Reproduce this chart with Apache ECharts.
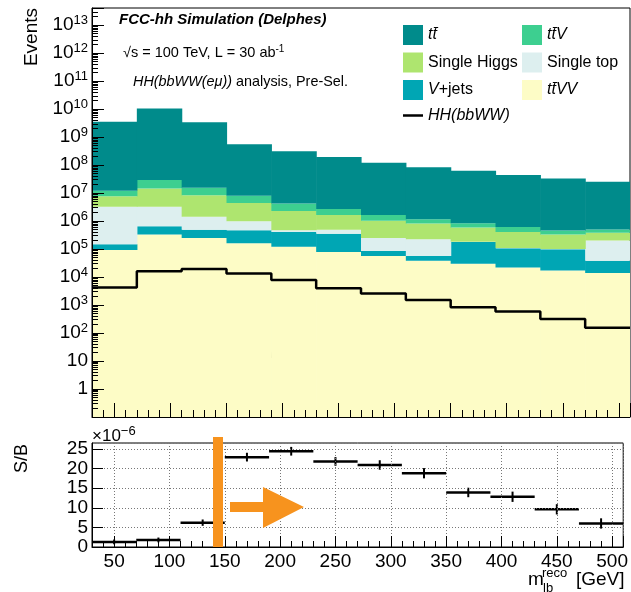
<!DOCTYPE html>
<html>
<head>
<meta charset="utf-8">
<script src="https://cdn.jsdelivr.net/npm/echarts@6/dist/echarts.min.js"></script>
<style>
html, body { margin: 0; padding: 0; background: #fff; }
#chart { width: 631px; height: 592px; }
</style>
</head>
<body>
<div id="chart"></div>
<script>
var binEdges = [30, 70, 110, 150, 190, 230, 270, 310, 350, 390, 430, 470, 510];

// events per bin, listed from the bottom of the stack upwards
var ttVV        = [9.3e4, 3.3e5, 2.5e5, 1.6e5, 1.2e5, 7.9e4, 5.6e4, 3.8e4, 3.0e4, 2.2e4, 1.7e4, 1.4e4];
var vJets       = [5.5e4, 3.2e5, 2.4e5, 3.1e5, 2.9e5, 2.75e5, 2.9e4, 1.8e4, 1.5e5, 8.5e4, 8.1e4, 2.4e4];
var singleTop   = [3.1e6, 2.6e6, 9.5e5, 5.1e5, 6.1e4, 1.35e5, 1.66e5, 1.68e5, 4.0e3, 3.0e3, 2.3e3, 1.66e5];
var singleHiggs = [4.5e6, 1.12e7, 6.9e6, 3.4e6, 1.8e6, 1.17e6, 7.7e5, 5.9e5, 4.0e5, 3.0e5, 2.3e5, 1.76e5];
var ttV         = [4.3e6, 1.5e7, 7.2e6, 3.6e6, 2.0e6, 1.03e6, 6.4e5, 3.6e5, 2.6e5, 2.0e5, 1.26e5, 1.21e5];
var ttbar       = [3.54e9, 1.04e10, 3.37e9, 5.5e8, 3.1e8, 1.9e8, 1.2e8, 8.2e7, 6.2e7, 4.4e7, 3.3e7, 2.5e7];
var hhSignal    = [4.2e3, 1.6e4, 1.95e4, 1.35e4, 7.9e3, 4.0e3, 2.6e3, 1.5e3, 830, 590, 320, 155];

// S/B in units of 1e-6
var sOverB    = [1.3, 1.8, 6.2, 22.9, 24.4, 21.8, 20.9, 18.8, 13.9, 12.8, 9.6, 6.0];
var sOverBErr = [0.1, 0.1, 0.3, 0.6, 0.6, 0.6, 0.7, 0.8, 0.7, 0.8, 0.8, 0.8];

var font = "'Liberation Sans', Arial, sans-serif";
var yMin = 0.1, yMax = 4.1e13;

var stackDefs = [
	{ name: 'ttVV', data: ttVV, color: '#fdfcc6' },
	{ name: 'vjets', data: vJets, color: '#00a6b4' },
	{ name: 'singletop', data: singleTop, color: '#ddefef' },
	{ name: 'singlehiggs', data: singleHiggs, color: '#aee56f' },
	{ name: 'ttV', data: ttV, color: '#3dcf90' },
	{ name: 'ttbar', data: ttbar, color: '#008b8b' }
];

var legendText = {
	ttbar: '{i|tt\u0304}',
	ttV: '{i|tt\u0304V}',
	singlehiggs: 'Single Higgs',
	singletop: 'Single top',
	vjets: '{i|V}+jets',
	ttVV: '{i|tt\u0304VV}',
	HH: '{i|HH(bbWW)}'
};

var cum = hhSignal.map(function () { return 0; });
var stackSeries = stackDefs.map(function (d) {
	var rows = d.data.map(function (v, i) {
		var lo = cum[i];
		cum[i] += v;
		return [binEdges[i], binEdges[i + 1], lo > 0 ? lo : yMin, cum[i]];
	});
	return {
		type: 'custom',
		name: d.name,
		xAxisIndex: 0,
		yAxisIndex: 0,
		clip: true,
		itemStyle: { color: d.color },
		encode: { x: [0, 1], y: [2, 3] },
		renderItem: function (params, api) {
			var a = api.coord([api.value(0), api.value(3)]);
			var b = api.coord([api.value(1), api.value(2)]);
			return {
				type: 'rect',
				shape: { x: a[0], y: a[1], width: b[0] - a[0] + 0.6, height: b[1] - a[1] },
				style: { fill: d.color }
			};
		},
		data: rows
	};
});

var hhLine = hhSignal.map(function (v, i) { return [binEdges[i], v]; });
hhLine.push([binEdges[binEdges.length - 1], hhSignal[hhSignal.length - 1]]);

var sbRows = sOverB.map(function (v, i) {
	return [binEdges[i], binEdges[i + 1], v, sOverBErr[i]];
});

var chart = echarts.init(document.getElementById('chart'));

var legendStyle = {
	fontSize: 16, color: '#000', fontFamily: font,
	rich: { i: { fontSize: 16, fontStyle: 'italic', fontFamily: font } }
};

var option = {
	animation: false,
	backgroundColor: '#fff',
	textStyle: { fontFamily: font, color: '#000' },
	grid: [
		{ left: 92, top: 8, width: 538, height: 409, show: true, borderColor: '#000', borderWidth: 1, backgroundColor: 'transparent' },
		{ left: 92, top: 443, width: 538, height: 104, show: true, borderColor: '#000', borderWidth: 1, backgroundColor: 'transparent' }
	],
	legend: [
		{
			left: 403, top: 25, orient: 'vertical', padding: 0,
			itemWidth: 20, itemHeight: 20, itemGap: 7.5,
			selectedMode: false,
			data: [
				{ name: 'ttbar', icon: 'rect' },
				{ name: 'singlehiggs', icon: 'rect' },
				{ name: 'vjets', icon: 'rect' },
				{ name: 'HH', icon: 'path://M0,0h20v2.5h-20z' }
			],
			formatter: function (n) { return legendText[n]; },
			textStyle: legendStyle
		},
		{
			left: 522, top: 25, orient: 'vertical', padding: 0,
			itemWidth: 20, itemHeight: 20, itemGap: 7.5,
			selectedMode: false,
			data: [{ name: 'ttV', icon: 'rect' }, { name: 'singletop', icon: 'rect' }, { name: 'ttVV', icon: 'rect' }],
			formatter: function (n) { return legendText[n]; },
			textStyle: legendStyle
		}
	],
	xAxis: [
		{
			gridIndex: 0, type: 'value', min: 30, max: 510, splitNumber: 10, z: 10,
			axisLine: { lineStyle: { color: '#000' } },
			axisTick: { inside: true, length: 14, lineStyle: { color: '#000' } },
			minorTick: { show: true, splitNumber: 5, length: 7, lineStyle: { color: '#000' } },
			axisLabel: { show: false },
			splitLine: { show: false }
		},
		{
			gridIndex: 1, type: 'value', min: 30, max: 510, splitNumber: 10, z: 10,
			axisLine: { lineStyle: { color: '#000' } },
			axisTick: { inside: true, length: 11, lineStyle: { color: '#000' } },
			minorTick: { show: true, splitNumber: 5, length: 6, lineStyle: { color: '#000' } },
			axisLabel: { fontSize: 19, color: '#000', margin: 5, showMinLabel: false, showMaxLabel: false },
			splitLine: { show: true, lineStyle: { color: '#777', type: [1, 2] } }
		}
	],
	yAxis: [
		{
			gridIndex: 0, type: 'log', logBase: 10, min: yMin, max: yMax, interval: 1, z: 10,
			axisLine: { lineStyle: { color: '#000' } },
			axisTick: { inside: true, length: 12, lineStyle: { color: '#000' } },
			minorTick: { show: true, splitNumber: 9, length: 6, lineStyle: { color: '#000' } },
			splitLine: { show: false },
			axisLabel: {
				margin: 4, color: '#000', showMinLabel: false, showMaxLabel: false,
				formatter: function (v) {
					var e = Math.round(Math.log10(v));
					if (e === 0) return '{b|1}';
					if (e === 1) return '{b|10}';
					return '{b|10}{e|' + e + '}';
				},
				rich: {
					b: { fontSize: 19, fontFamily: font },
					e: { fontSize: 13, fontFamily: font, padding: [0, 0, 10, 0] }
				}
			}
		},
		{
			gridIndex: 1, type: 'value', min: 0, max: 26.5, interval: 5, z: 10,
			axisLine: { lineStyle: { color: '#000' } },
			axisTick: { inside: true, length: 11, lineStyle: { color: '#000' } },
			axisLabel: { fontSize: 19, color: '#000', margin: 4, showMaxLabel: false },
			splitLine: { show: true, lineStyle: { color: '#777', type: [1, 2] } }
		}
	],
	series: stackSeries.concat([
		{
			type: 'line', name: 'HH', xAxisIndex: 0, yAxisIndex: 0,
			step: 'end', symbol: 'none', data: hhLine,
			lineStyle: { color: '#000', width: 2.5 },
			itemStyle: { color: '#000' },
			z: 5
		},
		{
			type: 'custom', name: 'S/B', xAxisIndex: 1, yAxisIndex: 1,
			encode: { x: [0, 1], y: 2 },
			renderItem: function (params, api) {
				var l = api.coord([api.value(0), api.value(2)]);
				var r = api.coord([api.value(1), api.value(2)]);
				var mid = (api.value(0) + api.value(1)) / 2;
				var hi = api.coord([mid, api.value(2) + api.value(3)]);
				var lo = api.coord([mid, api.value(2) - api.value(3)]);
				return {
					type: 'group',
					children: [
						{ type: 'line', shape: { x1: l[0], y1: l[1], x2: r[0], y2: r[1] }, style: { stroke: '#000', lineWidth: 2.5 } },
						{ type: 'line', shape: { x1: hi[0], y1: hi[1] - 2, x2: lo[0], y2: lo[1] + 2 }, style: { stroke: '#000', lineWidth: 2 } }
					]
				};
			},
			data: sbRows
		}
	]),
	graphic: [
		{ type: 'text', x: 32, y: 8, rotation: Math.PI / 2, style: { text: 'Events', font: '19px ' + font, fill: '#000', align: 'right', verticalAlign: 'middle' } },
		{ type: 'text', x: 22, y: 444, rotation: Math.PI / 2, style: { text: 'S/B', font: '18px ' + font, fill: '#000', align: 'right', verticalAlign: 'middle' } },
		{ type: 'text', x: 119, y: 20, style: { text: 'FCC-hh Simulation (Delphes)', font: 'italic bold 15px ' + font, fill: '#000', verticalAlign: 'middle' } },
		{ type: 'text', x: 123, y: 53, style: { text: '\u221As = 100 TeV, L = 30 ab{s|-1}', font: '14.5px ' + font, fill: '#000', verticalAlign: 'middle', rich: { s: { fontSize: 10, padding: [0, 0, 8, 0] } } } },
		{ type: 'text', x: 133, y: 82, style: { text: '{i|HH(bbWW(e\u03BC))} analysis, Pre-Sel.', font: '14.4px ' + font, fill: '#000', verticalAlign: 'middle', rich: { i: { fontStyle: 'italic', fontSize: 14.4 } } } },
		{ type: 'text', x: 235, y: 332, style: { text: 'm', font: 'italic 46px "Liberation Serif", "Times New Roman", serif', fill: '#000', verticalAlign: 'middle' } },
		{ type: 'text', x: 269, y: 350, style: { text: 'lb', font: 'italic 32px "Liberation Serif", "Times New Roman", serif', fill: '#000', verticalAlign: 'middle' } },
		{ type: 'text', x: 92, y: 436, style: { text: '\u00D710{s|\u22126}', font: '17px ' + font, fill: '#000', verticalAlign: 'middle', rich: { s: { fontSize: 13, padding: [0, 0, 10, 0] } } } },
		{ type: 'text', x: 528, y: 580, style: { text: 'm', font: '19px ' + font, fill: '#000', verticalAlign: 'middle' } },
		{ type: 'text', x: 542, y: 573, style: { text: 'reco', font: '13px ' + font, fill: '#000', verticalAlign: 'middle' } },
		{ type: 'text', x: 543, y: 588, style: { text: 'lb', font: '13px ' + font, fill: '#000', verticalAlign: 'middle' } },
		{ type: 'text', x: 576, y: 580, style: { text: '[GeV]', font: '19px ' + font, fill: '#000', verticalAlign: 'middle' } },
		{ type: 'rect', shape: { x: 213, y: 437, width: 10, height: 110 }, style: { fill: '#f7931e' }, z: 100 },
		{ type: 'polygon', shape: { points: [[230, 502], [263, 502], [263, 487], [304, 507], [263, 528], [263, 512], [230, 512]] }, style: { fill: '#f7931e' }, z: 100 }
	]
};

chart.setOption(option);
</script>
</body>
</html>
